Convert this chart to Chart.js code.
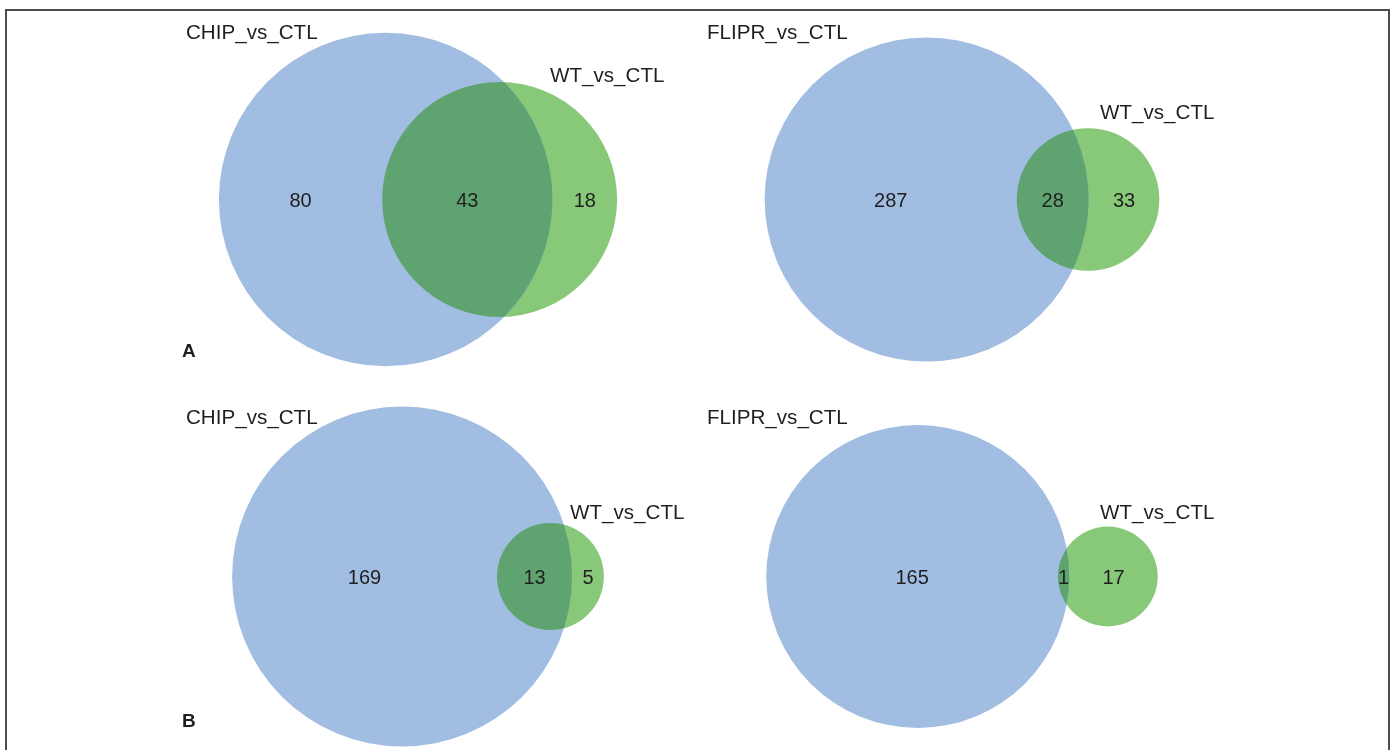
<!DOCTYPE html>
<html>
<head>
<meta charset="utf-8">
<title>Venn diagrams</title>
<script src="https://cdn.jsdelivr.net/npm/chart.js@4/dist/chart.umd.min.js"></script>
<style>
  html, body { margin: 0; padding: 0; background: #ffffff; overflow: hidden; }
  body { width: 1394px; height: 750px; position: relative; }
  #frame { position: absolute; left: 5px; top: 9px; width: 1385px; height: 800px; border: 2px solid #4d4d4d; box-sizing: border-box; }
  .panel { position: absolute; width: 540px; height: 375px; }
  .panel canvas { display: block; }
</style>
</head>
<body>
<div id="frame"></div>
<div class="panel" style="left:148px; top:12px;"><canvas id="venn0" width="540" height="375"></canvas></div>
<div class="panel" style="left:692px; top:12px;"><canvas id="venn1" width="540" height="375"></canvas></div>
<div class="panel" style="left:148px; top:389px;"><canvas id="venn2" width="540" height="375"></canvas></div>
<div class="panel" style="left:692px; top:389px;"><canvas id="venn3" width="540" height="375"></canvas></div>
<script>
// Gene-set comparisons: one Venn diagram per panel
const leftSets  = ['CHIP_vs_CTL', 'FLIPR_vs_CTL', 'CHIP_vs_CTL', 'FLIPR_vs_CTL'];
const rightSets = ['WT_vs_CTL', 'WT_vs_CTL', 'WT_vs_CTL', 'WT_vs_CTL'];
const leftOnly  = [80, 287, 169, 165];
const bothSets  = [43, 28, 13, 1];
const rightOnly = [18, 33, 5, 17];
const panelTags = ['A', '', 'B', ''];

// Drawing style
const BLUE = '#a2bde2';
const GREEN = '#88c879';
const LENS = '#5fa470';
const INK = '#1f1f1f';
const FONT = '"Liberation Sans", Arial, Helvetica, sans-serif';
const pxPerUnit = [15.04, 9.13, 12.6, 11.76];          // zoom of each diagram (pixels per unit radius)
const leftLabelAt  = [[38, 21], [15, 21], [38, 29], [15, 29]];
const rightLabelAt = [[402, 64], [408, 101], [422, 124], [408, 124]];
const tagAt = [[34, 340], null, [34, 333], null];

// Area of the lens shared by two circles whose centres are d apart
function lensArea(r1, r2, d) {
  if (d >= r1 + r2) return 0;
  if (d <= Math.abs(r1 - r2)) return Math.PI * Math.min(r1, r2) ** 2;
  const a1 = Math.acos((d * d + r1 * r1 - r2 * r2) / (2 * d * r1));
  const a2 = Math.acos((d * d + r2 * r2 - r1 * r1) / (2 * d * r2));
  return r1 * r1 * (a1 - Math.sin(a1) * Math.cos(a1)) +
         r2 * r2 * (a2 - Math.sin(a2) * Math.cos(a2));
}

// Centre distance giving an overlap of the requested area
function centreDistance(r1, r2, area) {
  let lo = Math.abs(r1 - r2), hi = r1 + r2;
  for (let i = 0; i < 80; i++) {
    const mid = (lo + hi) / 2;
    if (lensArea(r1, r2, mid) > area) lo = mid; else hi = mid;
  }
  return (lo + hi) / 2;
}

const unitPx = chart => chart.scales.x.getPixelForValue(1) - chart.scales.x.getPixelForValue(0);

// Shared region, counts and captions
const vennLayer = {
  id: 'venn',
  afterDatasetsDraw(chart, args, opts) {
    const ctx = chart.ctx;
    const sx = chart.scales.x, sy = chart.scales.y;
    const u = unitPx(chart);
    const cy = sy.getPixelForValue(0);
    const c1 = sx.getPixelForValue(0);
    const c2 = sx.getPixelForValue(opts.d);

    ctx.save();
    ctx.beginPath();
    ctx.arc(c1, cy, opts.r1 * u, 0, Math.PI * 2);
    ctx.clip();
    ctx.beginPath();
    ctx.arc(c2, cy, opts.r2 * u, 0, Math.PI * 2);
    ctx.fillStyle = LENS;
    ctx.fill();
    ctx.restore();

    ctx.save();
    ctx.fillStyle = INK;
    ctx.font = '20px ' + FONT;
    ctx.textAlign = 'center';
    ctx.textBaseline = 'middle';
    const lensLeft = opts.d - opts.r2, lensRight = opts.r1;
    const spots = [
      [(-opts.r1 + lensLeft) / 2, opts.counts[0]],
      [(lensLeft + lensRight) / 2, opts.counts[1]],
      [(lensRight + opts.d + opts.r2) / 2, opts.counts[2]]
    ];
    spots.forEach(([x, n]) => ctx.fillText(String(n), sx.getPixelForValue(x), cy + 2));

    ctx.textAlign = 'left';
    ctx.font = '20.6px ' + FONT;
    ctx.fillText(opts.leftName, opts.leftAt[0], opts.leftAt[1]);
    ctx.fillText(opts.rightName, opts.rightAt[0], opts.rightAt[1]);
    if (opts.tag) {
      ctx.font = 'bold 19px ' + FONT;
      ctx.fillText(opts.tag, opts.tagAt[0], opts.tagAt[1]);
    }
    ctx.restore();
  }
};

leftSets.forEach((name, i) => {
  const canvas = document.getElementById('venn' + i);
  const r1 = Math.sqrt(leftOnly[i] + bothSets[i]);
  const r2 = Math.sqrt(rightOnly[i] + bothSets[i]);
  const d = centreDistance(r1, r2, Math.PI * bothSets[i]);
  const midX = (d + r2 - r1) / 2;
  const k = pxPerUnit[i];
  const halfW = canvas.width / 2 / k;
  const halfH = canvas.height / 2 / k;

  new Chart(canvas, {
    type: 'bubble',
    data: {
      datasets: [
        { label: name, data: [{ x: 0, y: 0, r: r1 * k }],
          backgroundColor: BLUE, borderWidth: 0, hoverBorderWidth: 0, clip: false },
        { label: rightSets[i], data: [{ x: d, y: 0, r: r2 * k }],
          backgroundColor: GREEN, borderWidth: 0, hoverBorderWidth: 0, clip: false }
      ]
    },
    options: {
      responsive: false,
      animation: false,
      events: [],
      layout: { padding: 0, autoPadding: false },
      scales: {
        x: { type: 'linear', min: midX - halfW, max: midX + halfW, display: false },
        y: { type: 'linear', min: -halfH, max: halfH, display: false }
      },
      plugins: {
        legend: { display: false },
        tooltip: { enabled: false },
        venn: {
          r1, r2, d,
          counts: [leftOnly[i], bothSets[i], rightOnly[i]],
          leftName: name, rightName: rightSets[i],
          leftAt: leftLabelAt[i], rightAt: rightLabelAt[i],
          tag: panelTags[i], tagAt: tagAt[i]
        }
      }
    },
    plugins: [vennLayer]
  });
});
</script>
</body>
</html>
